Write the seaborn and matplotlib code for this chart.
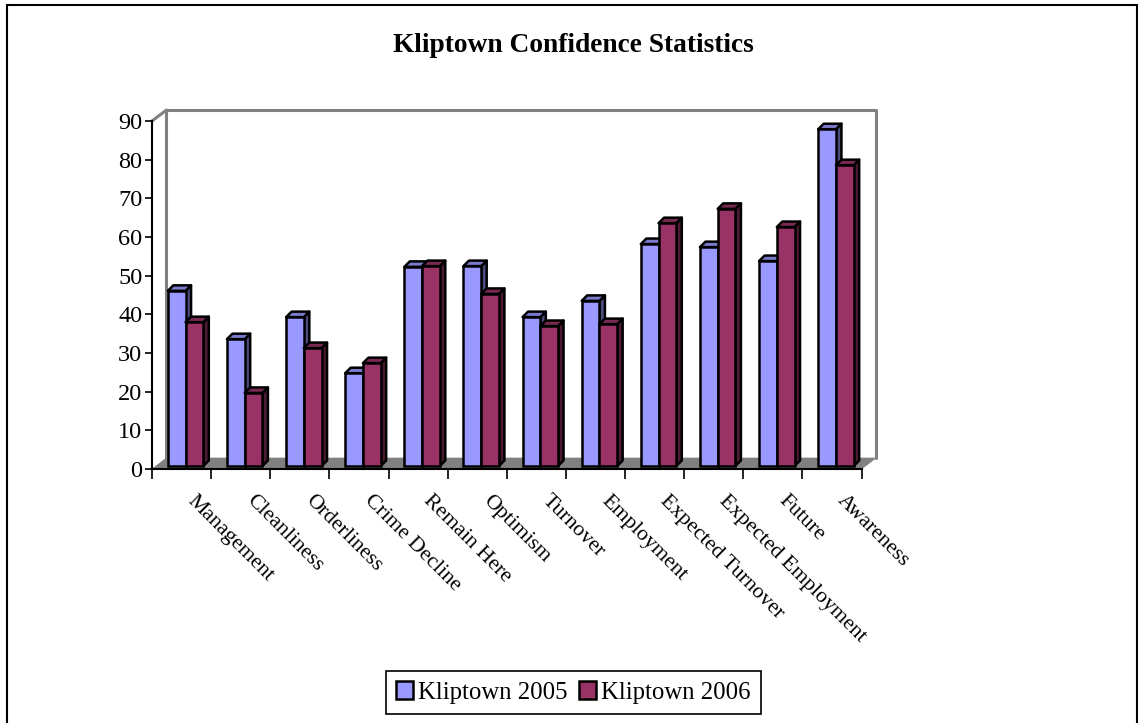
import numpy as np
import pandas as pd
import seaborn as sns
import matplotlib
matplotlib.use("Agg")
import matplotlib.pyplot as plt
from matplotlib.patches import Polygon, Rectangle
from matplotlib.lines import Line2D
from matplotlib.transforms import Affine2D, IdentityTransform

categories = ["Management", "Cleanliness", "Orderliness", "Crime Decline", "Remain Here", "Optimism",
              "Turnover", "Employment", "Expected Turnover", "Expected Employment", "Future", "Awareness"]
kliptown_2005 = [45.3, 32.8, 38.5, 24.0, 51.5, 51.7, 38.5, 42.7, 57.4, 56.6, 53.0, 87.1]
kliptown_2006 = [37.2, 18.9, 30.5, 26.6, 51.7, 44.5, 36.2, 36.7, 62.8, 66.5, 61.8, 77.8]
series_names = ["Kliptown 2005", "Kliptown 2006"]
y_ticks = list(range(0, 100, 10))

W, H = 1138, 723
front_col = ["#9999FF", "#993366"]
side_col = ["#4D4D80", "#4D1A33"]
top_col = ["#7A7ACC", "#7A2952"]
wall = "#808080"

sns.set_style("white")
plt.rcParams["font.family"] = ["Liberation Serif", "DejaVu Serif"]
plt.rcParams["text.color"] = "black"

df = pd.DataFrame({
    "category": categories * 2,
    "series": [series_names[0]] * 12 + [series_names[1]] * 12,
    "value": kliptown_2005 + kliptown_2006,
})

fig = plt.figure(figsize=(W / 100, H / 100), dpi=100, facecolor="white")
# front plane of the fake 3d box, in pixels
x0, x1, y0, y1 = 152, 861.5, 469, 121
ax = fig.add_axes([x0 / W, 1 - y0 / H, (x1 - x0) / W, (y0 - y1) / H])
ax.patch.set_visible(False)
ax.set_zorder(2)

sns.barplot(data=df, x="category", y="value", hue="series", palette=front_col, saturation=1,
            width=0.6, gap=0, edgecolor="black", linewidth=1.8, ax=ax, zorder=5)
ax.set_xlim(-0.5, 11.5)
ax.set_ylim(0, 90)
ax.set_xlabel("")
ax.set_ylabel("")

# walls and floor
px = IdentityTransform()
dep_x, dep_y = 14.5, 11


def to_px(x, y):
    return x, H - y


fl = [to_px(x0, y0), to_px(x0 + dep_x, y0 - dep_y), to_px(x1 + dep_x, y0 - dep_y), to_px(x1, y0)]
fig.add_artist(Polygon(fl, closed=True, fc=wall, ec=wall, lw=0.5, transform=px, zorder=0.5))
xs = [x0, x0 + dep_x, x0 + dep_x]
ys = [y1, y1 - dep_y, y0 - dep_y]
fig.add_artist(Line2D(xs, [H - v for v in ys], color=wall, lw=2.2, transform=px, zorder=0.6))
xs = [x0 + dep_x, x1 + dep_x, x1 + dep_x]
ys = [y1 - dep_y, y1 - dep_y, y0 - dep_y]
fig.add_artist(Line2D(xs, [H - v for v in ys], color=wall, lw=2.2, transform=px, zorder=0.6))

# bars sit a little inside the box, then get side and top faces
shift = np.array([4.0, 3.0])
bar_dep = np.array([5.5, 5.5])
for s, cont in enumerate(ax.containers):
    for bar in cont:
        bx, bw, bh = bar.get_x(), bar.get_width(), bar.get_height()
        bar.set_transform(ax.transData + Affine2D().translate(*shift))
        bar.set_clip_on(False)
        bar.set_zorder(5 + 2 * s + 1)
        br = ax.transData.transform((bx + bw, 0)) + shift
        tl = ax.transData.transform((bx, bh)) + shift
        tr = ax.transData.transform((bx + bw, bh)) + shift
        side = Polygon([br, tr, tr + bar_dep, br + bar_dep], closed=True, fc=side_col[s], ec="black",
                       lw=1.8, transform=px, zorder=5 + 2 * s, joinstyle="round")
        top = Polygon([tl, tr, tr + bar_dep, tl + bar_dep], closed=True, fc=top_col[s], ec="black",
                      lw=1.8, transform=px, zorder=5 + 2 * s, joinstyle="round")
        ax.add_artist(side)
        ax.add_artist(top)
        side.set_clip_on(False)
        top.set_clip_on(False)

# axes
for name in ["top", "right"]:
    ax.spines[name].set_visible(False)
for name in ["left", "bottom"]:
    ax.spines[name].set_linewidth(1.5)
    ax.spines[name].set_color("black")
    ax.spines[name].set_visible(True)

ax.set_yticks(y_ticks)
ax.tick_params(axis="y", which="major", length=5, width=1.2, color="black", left=True,
               labelsize=17.5, pad=2, labelcolor="black")
ax.set_xticks(np.arange(-0.5, 12, 1), minor=True)
ax.tick_params(axis="x", which="minor", length=7, width=1.2, color="black", bottom=True)
ax.xaxis.get_minor_ticks()[-1].tick1line.set_color(wall)
ax.tick_params(axis="x", which="major", length=0, labelsize=15.7, pad=16, labelcolor="black")
ax.set_xticks(range(len(categories)))
ax.set_xticklabels(categories, rotation=-45, ha="left", va="top", rotation_mode="anchor")
for lab in ax.get_xticklabels():
    lab.set_transform(lab.get_transform() + Affine2D().translate(15, 0))

leg = ax.legend(loc="center", bbox_to_anchor=(573.5 / W, 1 - 692.5 / H), bbox_transform=fig.transFigure,
                ncol=2, frameon=True, fancybox=False, edgecolor="black", framealpha=1, fontsize=17.8,
                handlelength=0.69, handleheight=0.69, handletextpad=0.2, columnspacing=0.48,
                borderpad=0.4, title=None, shadow=False)
leg.get_frame().set_linewidth(1.2)

fig.suptitle("Kliptown Confidence Statistics", x=573 / W, y=1 - 46 / H, va="center", ha="center",
             fontsize=19.7, fontweight="bold", color="black")

# outer chart frame, runs off the bottom of the picture
fig.add_artist(Rectangle((7, -10), 1130, H - 5 + 10, fill=False, ec="black", lw=1.5, transform=px, clip_on=False))

fig.savefig("out.png", dpi=100, facecolor="white")
